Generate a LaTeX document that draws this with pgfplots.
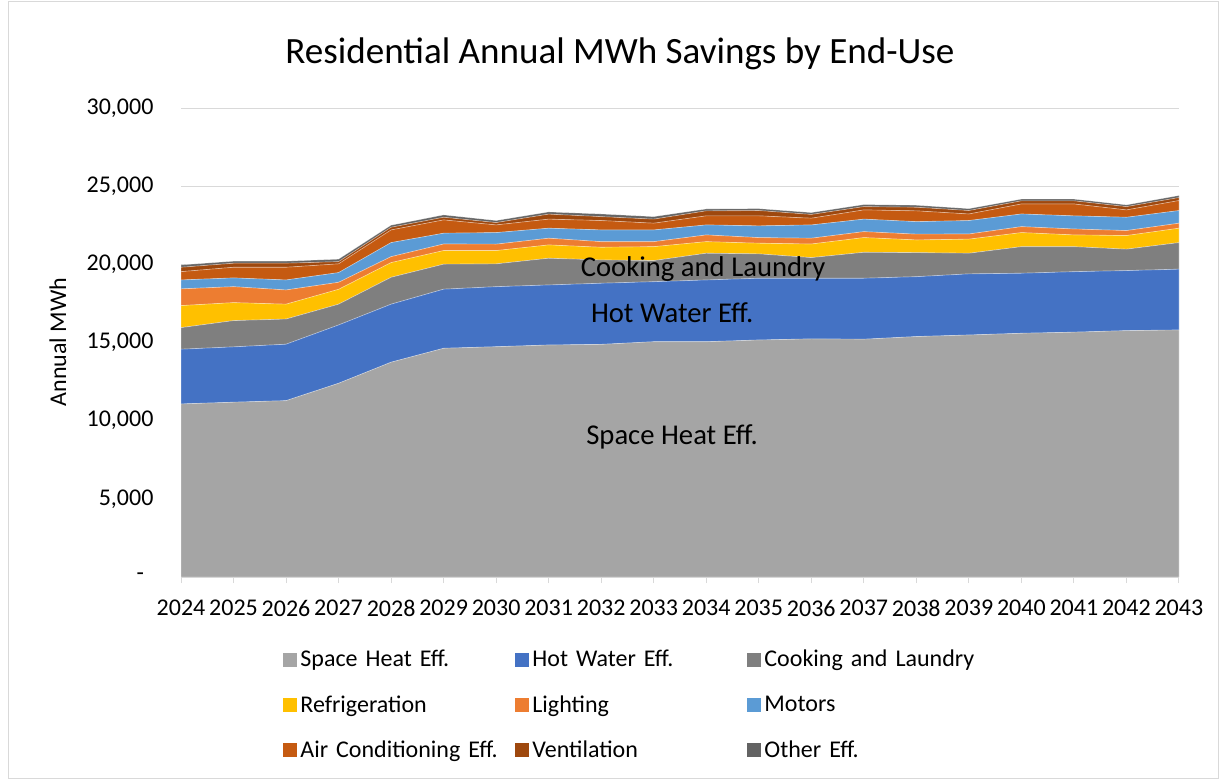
\documentclass[border=0pt]{standalone}
\usepackage{pgfplots}
\pgfplotsset{compat=1.18}
\usepackage{pgfplotstable}
\usepackage{fontspec}
\setmainfont{Carlito}
\definecolor{cSH}{HTML}{A5A5A5}
\definecolor{cHW}{HTML}{4472C4}
\definecolor{cCK}{HTML}{7F7F7F}
\definecolor{cRF}{HTML}{FFC000}
\definecolor{cLT}{HTML}{ED7D31}
\definecolor{cMO}{HTML}{5B9BD5}
\definecolor{cAC}{HTML}{C55A11}
\definecolor{cVE}{HTML}{9E480E}
\definecolor{cOT}{HTML}{636363}
\definecolor{cGrid}{HTML}{D9D9D9}
\pgfplotstableread{
year sh hw ck rf lt mo ac ve ot
2024 11070 3500 1380 1410 1070 570 530 280 150
2025 11180 3540 1680 1150 1020 560 680 260 130
2026 11280 3610 1610 950 910 640 810 260 130
2027 12390 3730 1330 950 450 620 560 140 160
2028 13740 3710 1720 940 380 900 810 170 130
2029 14630 3780 1600 870 420 690 850 170 150
2030 14730 3840 1460 850 410 740 490 150 130
2031 14840 3840 1710 850 430 640 580 320 140
2032 14880 3910 1490 810 360 750 600 250 170
2033 15050 3840 1350 890 320 750 430 260 160
2034 15050 3950 1710 740 430 640 580 320 120
2035 15160 3950 1560 680 360 750 640 340 120
2036 15230 3880 1320 870 370 850 430 240 120
2037 15210 3900 1660 940 380 800 590 210 130
2038 15380 3830 1540 810 370 800 690 230 130
2039 15480 3910 1320 900 330 860 420 220 120
2040 15590 3840 1700 900 380 810 640 200 110
2041 15660 3870 1600 750 380 840 760 200 110
2042 15760 3840 1370 870 320 850 470 210 110
2043 15800 3890 1700 920 320 810 640 190 130
}\datatable
\begin{document}
\begin{tikzpicture}
% page frame
\path (0pt,0pt) rectangle (919.5pt,-585pt);
\draw[cGrid, line width=0.75pt] (6pt,-1pt) rectangle (913.5pt,-584pt);
\node[font=\fontsize{27.8}{32}\selectfont, anchor=center] at (465pt,-40.5pt) {Residential Annual MWh Savings by End-Use};
\node[font=\fontsize{18}{21}\selectfont, rotate=90, anchor=center] at (43.5pt,-256.5pt) {Annual MWh};
\begin{axis}[
  at={(135.75pt,-432.75pt)}, anchor=south west,
  scale only axis, width=748.5pt, height=351.75pt,
  xmin=2024, xmax=2043, ymin=0, ymax=30000,
  enlargelimits=false,
  scaled y ticks=false, scaled x ticks=false,
  stack plots=y,
  axis x line*=bottom, axis y line*=left,
  y axis line style={draw=none},
  x axis line style={cGrid, line width=0.75pt},
  xtick={2024,...,2043},
  xticklabels={2024,2025,2026,2027,2028,2029,2030,2031,2032,2033,2034,2035,2036,2037,2038,2039,2040,2041,2042,2043},
  ytick={0,5000,10000,15000,20000,25000,30000},
  yticklabels={{-\kern7pt\relax},{5,000},{10,000},{15,000},{20,000},{25,000},{30,000}},
  ytick style={draw=none},
  xtick style={cGrid, line width=0.75pt},
  tick align=outside, major tick length=4.5pt,
  ymajorgrids, grid style={cGrid, line width=0.75pt},
  ticklabel style={font=\fontsize{18}{21}\selectfont, inner sep=0pt},
  yticklabel style={anchor=east},
  yticklabel shift=16pt,
  xticklabel style={anchor=north},
  xticklabel shift=12.5pt,
  legend columns=3,
  legend style={at={(0.098,-0.15)}, anchor=north west, draw=none, fill=none,
    font=\fontsize{18}{21}\selectfont, row sep=20pt,
    nodes={text width=161pt, align=left, inner sep=0pt, anchor=west},
    /tikz/every odd column/.append style={column sep=2.5pt}},
  legend image code/.code={\fill[#1, draw=none] (0pt,-5.25pt) rectangle (10.5pt,5.25pt);},
  every axis plot/.append style={draw=white, draw opacity=0.35, line width=0.5pt},
]
\addplot[fill=cSH] table[x=year, y=sh] {\datatable} \closedcycle;
\addlegendentry{Space Heat Eff.}
\addplot[fill=cHW] table[x=year, y=hw] {\datatable} \closedcycle;
\addlegendentry{Hot Water Eff.}
\addplot[fill=cCK] table[x=year, y=ck] {\datatable} \closedcycle;
\addlegendentry{Cooking and Laundry}
\addplot[fill=cRF] table[x=year, y=rf] {\datatable} \closedcycle;
\addlegendentry{Refrigeration}
\addplot[fill=cLT] table[x=year, y=lt] {\datatable} \closedcycle;
\addlegendentry{Lighting}
\addplot[fill=cMO] table[x=year, y=mo] {\datatable} \closedcycle;
\addlegendentry{Motors}
\addplot[fill=cAC] table[x=year, y=ac] {\datatable} \closedcycle;
\addlegendentry{Air Conditioning Eff.}
\addplot[fill=cVE] table[x=year, y=ve] {\datatable} \closedcycle;
\addlegendentry{Ventilation}
\addplot[fill=cOT] table[x=year, y=ot] {\datatable} \closedcycle;
\addlegendentry{Other Eff.}
\coordinate (lblSH) at (axis cs:2033.35,8960);
\coordinate (lblHW) at (axis cs:2033.35,16900);
\coordinate (lblCK) at (axis cs:2033.94,19700);
\end{axis}
\node[font=\fontsize{21.5}{25}\selectfont] at (lblSH) {Space Heat Eff.};
\node[font=\fontsize{21.5}{25}\selectfont] at (lblHW) {Hot Water Eff.};
\node[font=\fontsize{21.5}{25}\selectfont] at (lblCK) {Cooking and Laundry};
\end{tikzpicture}
\end{document}
